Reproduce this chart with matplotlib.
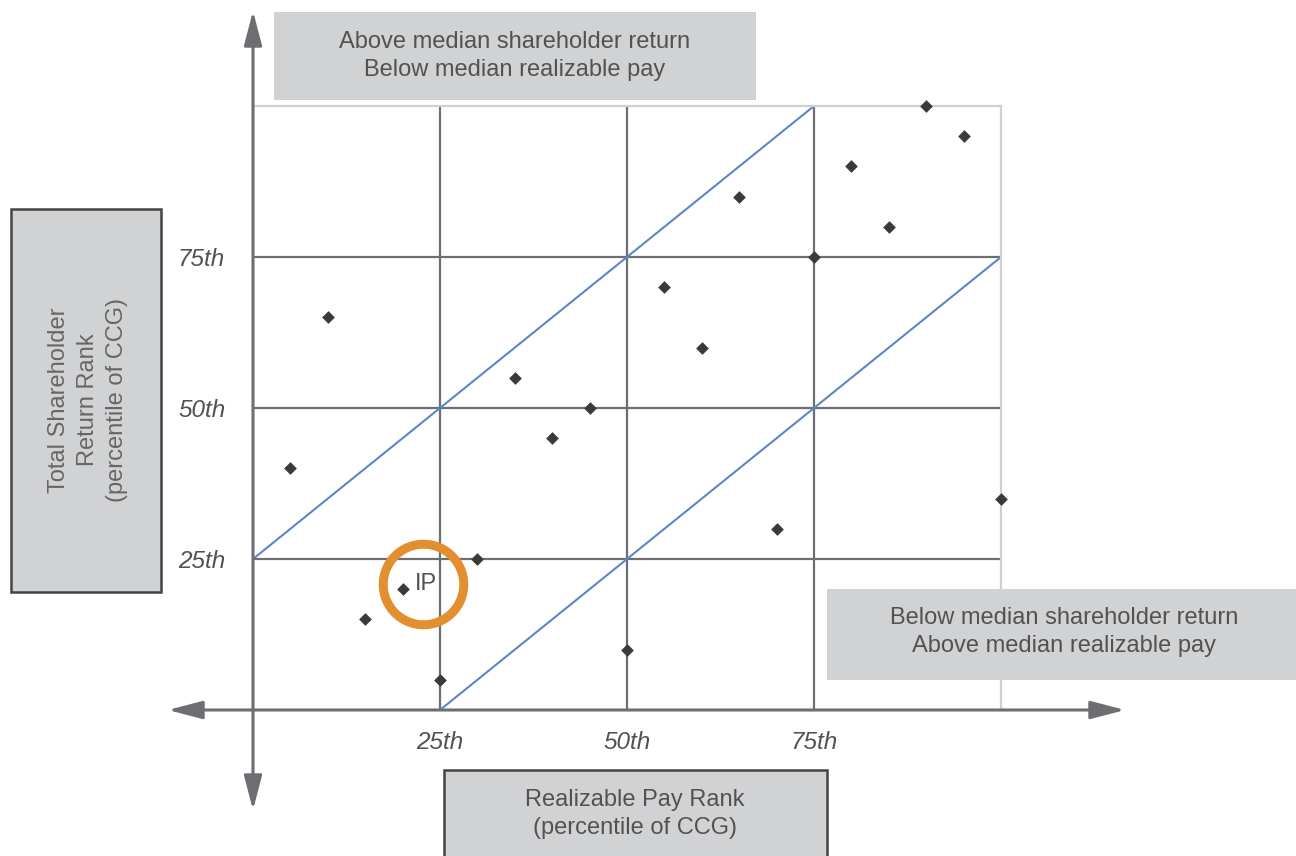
import matplotlib
matplotlib.use("Agg")
import matplotlib.pyplot as plt
from matplotlib.patches import Rectangle, FancyArrowPatch
from matplotlib.transforms import ScaledTranslation

plt.rcParams['font.family'] = ['Liberation Sans', 'DejaVu Sans']

# Realizable pay rank (x) and total shareholder return rank (y), percentiles
pay_rank = [5, 10, 15, 20, 25, 30, 35, 40, 45, 50, 55, 60, 65, 70, 75, 80, 85, 90, 95, 100]
tsr_rank = [40, 65, 15, 20, 5, 25, 55, 45, 50, 10, 70, 60, 85, 30, 75, 90, 80, 100, 95, 35]

# Highlighted company
ip_label = "IP"
ip_pay, ip_tsr = 20, 20

# Alignment band edges (pay rank vs TSR rank)
band_upper_x = [0, 75]
band_upper_y = [25, 100]
band_lower_x = [25, 100]
band_lower_y = [0, 75]

tick_values = [25, 50, 75]
tick_labels = ["25th", "50th", "75th"]

x_title = "Realizable Pay Rank\n(percentile of CCG)"
y_title = "Total Shareholder\nReturn Rank\n(percentile of CCG)"
top_note = "Above median shareholder return\nBelow median realizable pay"
bottom_note = "Below median shareholder return\nAbove median realizable pay"

W, H = 1296, 856
fig = plt.figure(figsize=(W / 100, H / 100), dpi=100)
fig.patch.set_facecolor("white")

TEXT = "#525252"
GRID = "#6d6e71"
FRAME = "#d0d0d0"
BOX = "#d1d2d4"
BLUE = "#5b86c8"
ORANGE = "#e38f2f"
MARK = "#3a3a3a"
FS = 17
TICK_FS = 17.5

# Main plotting area (pixel frame 253..1001 x 106..710)
x0, x1, ytop, ybot = 253, 1001, 106, 710
ax = fig.add_axes([x0 / W, (H - ybot) / H, (x1 - x0) / W, (ybot - ytop) / H])
ax.set_xlim(0, 100)
ax.set_ylim(0, 100)
ax.patch.set_alpha(0)

for s in ["left", "bottom"]:
    ax.spines[s].set_visible(False)
for s in ["top", "right"]:
    ax.spines[s].set_color(FRAME)
    ax.spines[s].set_linewidth(1.6)

ax.set_xticks(tick_values)
ax.set_xticklabels(tick_labels, fontstyle="italic", fontsize=TICK_FS, color=TEXT)
ax.set_yticks(tick_values)
ax.set_yticklabels(tick_labels, fontstyle="italic", fontsize=TICK_FS, color=TEXT)
ax.tick_params(axis="both", length=0)
ax.tick_params(axis="x", pad=15)
ax.tick_params(axis="y", pad=20)
ax.grid(True, color=GRID, linewidth=1.6)
ax.set_axisbelow(True)

ax.plot(band_upper_x, band_upper_y, color=BLUE, lw=1.5, zorder=2)
ax.plot(band_lower_x, band_lower_y, color=BLUE, lw=1.5, zorder=2)

ax.scatter(pay_rank, tsr_rank, marker="D", s=42, color=MARK, zorder=4,
           clip_on=False, linewidths=0)

# Ring and label around the highlighted company
ring_offset = ScaledTranslation(20 / 100, 5 / 100, fig.dpi_scale_trans)
ax.plot([ip_pay], [ip_tsr], marker="o", ms=58, mfc="none", mec=ORANGE, mew=6.5,
        transform=ax.transData + ring_offset, zorder=5, clip_on=False)
ax.annotate(ip_label, (ip_pay, ip_tsr), xytext=(9, 4), textcoords="offset points",
            fontsize=FS, color=TEXT, va="center", ha="left", zorder=6)

# Overlay in pixel coordinates for arrows and caption boxes
deco = fig.add_axes([0, 0, 1, 1], zorder=10)
deco.set_xlim(0, W)
deco.set_ylim(H, 0)
deco.axis("off")
deco.patch.set_alpha(0)

arrow_kw = dict(arrowstyle="<|-|>,head_length=21,head_width=5.5", mutation_scale=1,
                color="#6d6e71", lw=2.2, shrinkA=0, shrinkB=0)
deco.add_patch(FancyArrowPatch((168, ybot), (1125, ybot), **arrow_kw))
deco.add_patch(FancyArrowPatch((x0, 810), (x0, 11), **arrow_kw))

# Caption boxes
deco.add_patch(Rectangle((274, 12), 482, 88, facecolor=BOX, edgecolor="none"))
deco.text(515, 56, top_note, ha="center", va="center", fontsize=FS,
          color=TEXT, linespacing=1.38)

deco.add_patch(Rectangle((827, 589), 480, 91, facecolor=BOX, edgecolor="none"))
deco.text(1064, 632, bottom_note, ha="center", va="center", fontsize=FS,
          color=TEXT, linespacing=1.38)

deco.add_patch(Rectangle((11, 209), 150, 383, facecolor=BOX, edgecolor="#444444", lw=1.8))
deco.text(88, 400, y_title, ha="center", va="center", rotation=90, fontsize=FS,
          color="#666666", linespacing=1.42)

deco.add_patch(Rectangle((444, 770), 383, 100, facecolor=BOX, edgecolor="#444444", lw=1.8,
                         clip_on=False))
deco.text(635, 814, x_title, ha="center", va="center", fontsize=FS,
          color=TEXT, linespacing=1.38)

fig.savefig("out.png", dpi=100)
